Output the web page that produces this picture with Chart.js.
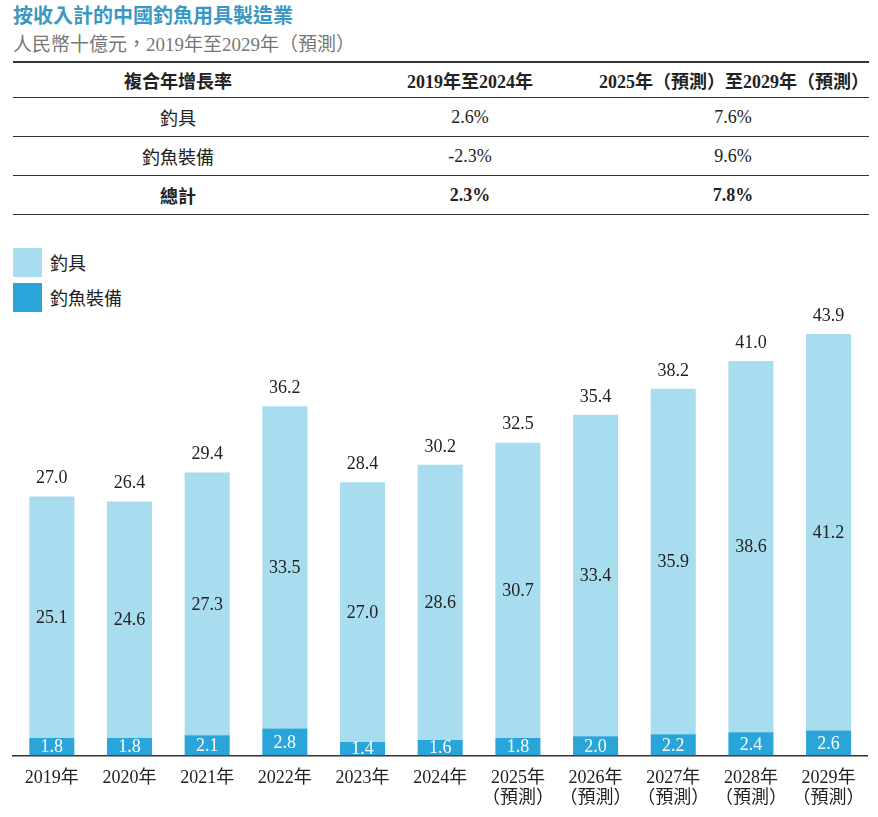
<!DOCTYPE html>
<html>
<head>
<meta charset="utf-8">
<script src="https://cdn.jsdelivr.net/npm/chart.js@4.4.1/dist/chart.umd.min.js"></script>
<style>
  body{margin:0;background:#fff;width:878px;height:817px;position:relative;overflow:hidden;
    font-family:"Liberation Serif","Noto Sans CJK TC",serif;color:#222;}
  .title{position:absolute;left:13px;top:0px;font-size:20px;font-weight:bold;color:#3b98c2;}
  .sub{position:absolute;left:13px;top:29px;font-size:19px;color:#777;}
  table{position:absolute;left:13px;top:61px;width:856px;border-collapse:collapse;font-size:18px;}
  td{height:38px;padding:0;text-align:center;border-bottom:1.5px solid #333;}
  tr:first-child td{border-top:2px solid #333;height:34px;}
  .b td{font-weight:bold;}
  .legend{position:absolute;left:13px;top:247px;font-size:18px;}
  .legend div{display:flex;align-items:center;height:30px;margin-bottom:5px;}
  .legend span{display:inline-block;width:29px;height:29px;margin-right:8px;}
  #wrap{position:absolute;left:0;top:300px;width:878px;height:521px;}
</style>
</head>
<body>
<div class="title">按收入計的中國釣魚用具製造業</div>
<div class="sub">人民幣十億元，2019年至2029年（預測）</div>
<table>
  <tr class="b"><td style="width:330px">複合年增長率</td><td style="width:254px">2019年至2024年</td><td style="text-align:right">2025年（預測）至2029年（預測）</td></tr>
  <tr><td>釣具</td><td>2.6%</td><td>7.6%</td></tr>
  <tr><td>釣魚裝備</td><td>-2.3%</td><td>9.6%</td></tr>
  <tr class="b"><td>總計</td><td>2.3%</td><td>7.8%</td></tr>
</table>
<div class="legend">
  <div><span style="background:#a8dcef"></span>釣具</div>
  <div><span style="background:#2aa5d9"></span>釣魚裝備</div>
</div>
<div id="wrap"><canvas id="myChart"></canvas></div>
<script>
var years = [["2019年"],["2020年"],["2021年"],["2022年"],["2023年"],["2024年"],
  ["2025年","（預測）"],["2026年","（預測）"],["2027年","（預測）"],["2028年","（預測）"],["2029年","（預測）"]];
var tackle = [25.1, 24.6, 27.3, 33.5, 27.0, 28.6, 30.7, 33.4, 35.9, 38.6, 41.2];
var equipment = [1.8, 1.8, 2.1, 2.8, 1.4, 1.6, 1.8, 2.0, 2.2, 2.4, 2.6];
var totals = [27.0, 26.4, 29.4, 36.2, 28.4, 30.2, 32.5, 35.4, 38.2, 41.0, 43.9];

var fontFam = '"Liberation Serif","Noto Sans CJK TC",serif';

// draws the numbers inside and above the bars
var barLabels = {
  id: "barLabels",
  afterDatasetsDraw: function(chart){
    let ctx = chart.ctx;
    ctx.save();
    ctx.font = "18px " + fontFam;
    ctx.textAlign = "center";
    ctx.textBaseline = "middle";
    chart.data.datasets.forEach(function(ds, i){
      let meta = chart.getDatasetMeta(i);
      meta.data.forEach(function(bar, j){
        ctx.fillStyle = i == 0 ? "#ffffff" : "#222222";
        ctx.fillText(ds.data[j].toFixed(1), bar.x, (bar.y + bar.base) / 2 + 1);
        if (i == 1) {
          ctx.fillStyle = "#222222";
          ctx.fillText(totals[j].toFixed(1), bar.x, bar.y - 18);
        }
      });
    });
    ctx.restore();
  }
};

new Chart("myChart", {
  type: "bar",
  data: {
    labels: years,
    datasets: [
      {label: "釣魚裝備", data: equipment, backgroundColor: "#2aa5d9", categoryPercentage: 1, barPercentage: 0.58},
      {label: "釣具", data: tackle, backgroundColor: "#a8dcef", categoryPercentage: 1, barPercentage: 0.58}
    ]
  },
  options: {
    responsive: true,
    maintainAspectRatio: false,
    animation: false,
    layout: {padding: {top: 33, left: 13, right: 9, bottom: 0}},
    plugins: {legend: {display: false}, tooltip: {enabled: false}},
    scales: {
      x: {
        stacked: true,
        grid: {display: false, drawTicks: false},
        border: {color: "#333", width: 1.5},
        ticks: {color: "#222", font: {family: fontFam, size: 18, lineHeight: 1.1}, padding: 13, maxRotation: 0, autoSkip: false}
      },
      y: {
        stacked: true,
        display: false,
        min: 0,
        max: 43.9
      }
    }
  },
  plugins: [barLabels]
});
</script>
</body>
</html>
